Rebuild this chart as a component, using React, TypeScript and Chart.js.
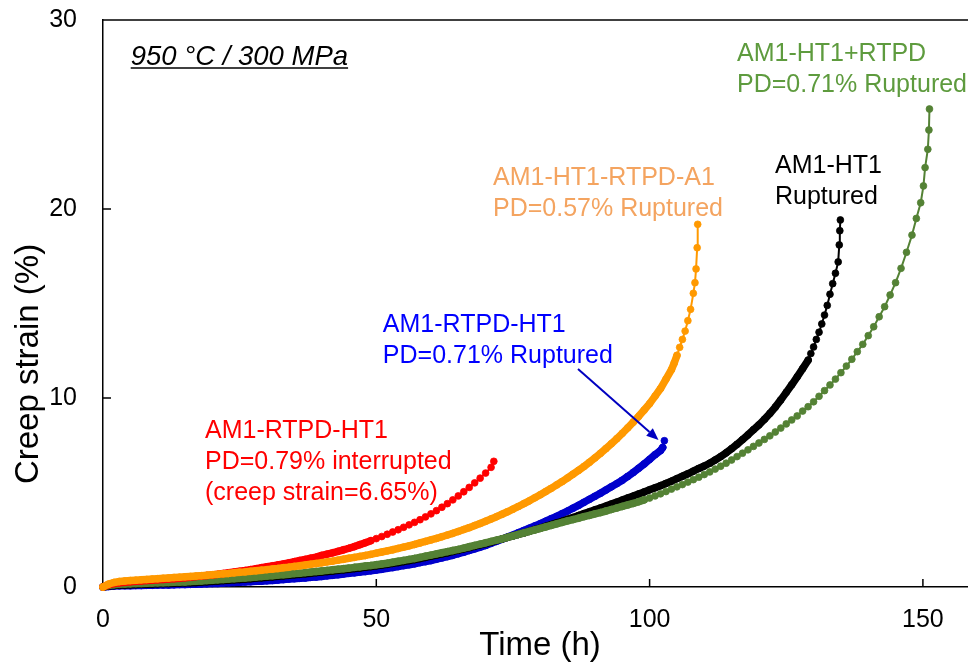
import React, { useEffect, useRef } from 'react';
import { Chart, registerables } from 'chart.js';

Chart.register(...registerables);

const FONT = '"Liberation Sans", Arial, Helvetica, sans-serif';

// Creep strain (%) sampled hourly: index = time (h)
const redHourly = [
  0, 0.12, 0.18, 0.22, 0.25, 0.28, 0.3, 0.32, 0.34, 0.36,
  0.38, 0.4, 0.42, 0.44, 0.46, 0.49, 0.52, 0.55, 0.58, 0.61,
  0.64, 0.67, 0.71, 0.75, 0.79, 0.83, 0.87, 0.92, 0.97, 1.02,
  1.07, 1.12, 1.17, 1.22, 1.28, 1.34, 1.4, 1.46, 1.52, 1.58,
  1.67, 1.74, 1.81, 1.89, 1.97, 2.05, 2.14, 2.24, 2.34, 2.45,
  2.56, 2.67, 2.79, 2.91, 3.03, 3.16, 3.29, 3.42, 3.56, 3.71,
  3.87, 4.04, 4.22, 4.41, 4.61, 4.82, 5.04, 5.27, 5.51, 5.76,
  6.03, 6.33,
];
const redTailTime = [71.5];
const redTailStrain = [6.65];

const orangeHourly = [
  0, 0.15, 0.24, 0.29, 0.32, 0.34, 0.36, 0.38, 0.4, 0.42,
  0.44, 0.46, 0.48, 0.5, 0.52, 0.54, 0.56, 0.58, 0.6, 0.62,
  0.65, 0.67, 0.7, 0.72, 0.75, 0.78, 0.8, 0.83, 0.86, 0.89,
  0.92, 0.95, 0.98, 1.02, 1.05, 1.09, 1.12, 1.16, 1.2, 1.24,
  1.28, 1.33, 1.37, 1.42, 1.47, 1.52, 1.57, 1.62, 1.67, 1.73,
  1.79, 1.85, 1.91, 1.97, 2.04, 2.11, 2.18, 2.25, 2.33, 2.41,
  2.49, 2.57, 2.66, 2.75, 2.84, 2.94, 3.04, 3.14, 3.25, 3.36,
  3.48, 3.6, 3.72, 3.85, 3.98, 4.12, 4.26, 4.41, 4.56, 4.72,
  4.88, 5.05, 5.22, 5.4, 5.58, 5.77, 5.97, 6.17, 6.38, 6.6,
  6.83, 7.07, 7.32, 7.58, 7.85, 8.13, 8.42, 8.72, 9.03, 9.36,
  9.7, 10.1, 10.5, 11.0, 11.5,
];
const orangeTailTime = [104.5, 105, 105.5, 106, 106.5, 107, 107.5, 108, 108.3, 108.5, 108.7, 108.8];
const orangeTailStrain = [11.85, 12.25, 12.68, 13.1, 13.54, 14.09, 14.69, 15.54, 16.1, 16.83, 17.95, 19.19];

const blueHourly = [
  0, 0.03, 0.05, 0.06, 0.07, 0.07, 0.08, 0.08, 0.09, 0.09,
  0.1, 0.11, 0.11, 0.12, 0.13, 0.13, 0.14, 0.15, 0.16, 0.17,
  0.18, 0.19, 0.21, 0.22, 0.24, 0.25, 0.27, 0.28, 0.3, 0.31,
  0.33, 0.35, 0.37, 0.39, 0.42, 0.44, 0.46, 0.48, 0.51, 0.53,
  0.56, 0.59, 0.62, 0.65, 0.69, 0.72, 0.75, 0.79, 0.82, 0.86,
  0.9, 0.94, 0.99, 1.03, 1.08, 1.13, 1.18, 1.23, 1.29, 1.34,
  1.4, 1.47, 1.54, 1.61, 1.68, 1.76, 1.84, 1.93, 2.02, 2.11,
  2.2, 2.31, 2.42, 2.53, 2.64, 2.75, 2.87, 2.99, 3.11, 3.23,
  3.35, 3.48, 3.61, 3.74, 3.88, 4.02, 4.17, 4.32, 4.48, 4.64,
  4.8, 4.96, 5.13, 5.3, 5.47, 5.65, 5.85, 6.06, 6.28, 6.51,
  6.75, 7.0, 7.22,
];
const blueTailTime = [102.4, 102.7];
const blueTailStrain = [7.38, 7.74];

const blackHourly = [
  0, 0.05, 0.08, 0.1, 0.11, 0.12, 0.13, 0.14, 0.15, 0.16,
  0.17, 0.18, 0.19, 0.2, 0.21, 0.22, 0.23, 0.24, 0.26, 0.28,
  0.3, 0.32, 0.34, 0.36, 0.38, 0.4, 0.42, 0.44, 0.47, 0.49,
  0.52, 0.54, 0.57, 0.59, 0.62, 0.65, 0.67, 0.7, 0.73, 0.76,
  0.79, 0.82, 0.85, 0.88, 0.91, 0.94, 0.98, 1.01, 1.05, 1.08,
  1.12, 1.16, 1.2, 1.25, 1.3, 1.35, 1.4, 1.45, 1.51, 1.57,
  1.63, 1.69, 1.75, 1.81, 1.88, 1.95, 2.02, 2.09, 2.16, 2.23,
  2.3, 2.38, 2.46, 2.54, 2.62, 2.7, 2.78, 2.86, 2.95, 3.04,
  3.12, 3.21, 3.3, 3.39, 3.48, 3.58, 3.68, 3.78, 3.88, 3.98,
  4.08, 4.18, 4.28, 4.39, 4.49, 4.6, 4.71, 4.81, 4.92, 5.03,
  5.14, 5.25, 5.36, 5.48, 5.6, 5.73, 5.86, 5.99, 6.13, 6.27,
  6.4, 6.55, 6.72, 6.9, 7.1, 7.32, 7.55, 7.8, 8.05, 8.32,
  8.58, 8.87, 9.18, 9.52, 9.9, 10.3, 10.7, 11.12, 11.55, 12.0,
];
const blackTailTime = [129.5, 130, 130.5, 131, 131.5, 132, 132.5, 133, 133.5, 134, 134.5, 134.7, 134.8, 134.9];
const blackTailStrain = [12.35, 12.7, 13.1, 13.48, 13.92, 14.39, 14.9, 15.49, 16.05, 16.6, 17.2, 18.1, 18.85, 19.42];

const greenHourly = [
  0, 0.08, 0.12, 0.14, 0.16, 0.17, 0.18, 0.19, 0.2, 0.21,
  0.22, 0.23, 0.24, 0.25, 0.26, 0.27, 0.29, 0.3, 0.32, 0.34,
  0.36, 0.38, 0.4, 0.42, 0.44, 0.46, 0.48, 0.5, 0.53, 0.55,
  0.58, 0.6, 0.63, 0.65, 0.68, 0.71, 0.73, 0.76, 0.79, 0.82,
  0.85, 0.88, 0.91, 0.94, 0.97, 1.0, 1.04, 1.07, 1.11, 1.14,
  1.18, 1.22, 1.26, 1.31, 1.36, 1.41, 1.46, 1.51, 1.57, 1.63,
  1.69, 1.75, 1.81, 1.87, 1.93, 1.99, 2.06, 2.13, 2.2, 2.27,
  2.34, 2.41, 2.48, 2.55, 2.63, 2.7, 2.78, 2.86, 2.94, 3.02,
  3.1, 3.18, 3.26, 3.34, 3.42, 3.5, 3.57, 3.64, 3.72, 3.79,
  3.87, 3.94, 4.02, 4.1, 4.18, 4.26, 4.34, 4.42, 4.51, 4.61,
  4.71, 4.82, 4.93, 5.05, 5.18, 5.3, 5.42, 5.55, 5.68, 5.81,
  5.95, 6.09, 6.24, 6.39, 6.55, 6.72, 6.9, 7.08, 7.26, 7.44,
  7.62, 7.81, 8.0, 8.2, 8.41, 8.63, 8.84, 9.05, 9.31, 9.54,
  9.8, 10.09, 10.39, 10.69, 11.0, 11.34, 11.69, 12.05, 12.45, 12.84,
  13.3, 13.77, 14.3, 14.83, 15.45, 16.1, 16.86, 17.71, 18.62,
];
const greenTailTime = [148.8, 149.6, 150.1, 150.4, 150.9, 151.1, 151.2];
const greenTailStrain = [19.5, 20.33, 21.22, 22.19, 23.16, 24.18, 25.29];

const xTicks = [0, 50, 100, 150];
const yTicks = [0, 10, 20, 30];

// Text annotations (data coordinates of left end of first baseline)
const labels = [
  { lines: ['AM1-RTPD-HT1', 'PD=0.79% interrupted', '(creep strain=6.65%)'], x: 18.66, y: 7.91, color: '#FF0000' },
  { lines: ['AM1-RTPD-HT1', 'PD=0.71% Ruptured'], x: 51.2, y: 13.51, color: '#0000FF' },
  { lines: ['AM1-HT1-RTPD-A1', 'PD=0.57% Ruptured'], x: 71.35, y: 21.29, color: '#F4A460' },
  { lines: ['AM1-HT1', 'Ruptured'], x: 122.94, y: 21.93, color: '#000000' },
  { lines: ['AM1-HT1+RTPD', 'PD=0.71% Ruptured'], x: 115.99, y: 27.85, color: '#5E9B3E' },
];
const condition = { text: '950 °C / 300 MPa', x: 5.07, y: 27.62 };
const arrow = { x1: 86.9, y1: 11.53, x2: 101.63, y2: 7.78, color: '#0000C0' };

function toPoints(hourly: number[], tt: number[], ts: number[]) {
  const pts = hourly.map((y, i) => ({ x: i, y }));
  tt.forEach((t, i) => pts.push({ x: t, y: ts[i] }));
  return pts;
}

export default function App() {
  const ref = useRef<HTMLCanvasElement>(null);

  useEffect(() => {
    const canvas = ref.current;
    if (!canvas) return;

    // denseUntil: number of leading points drawn as a solid dense band (densely logged portion)
    const mk = (label: string, data: any[], color: string, order: number, denseUntil: number) => ({
      label,
      data,
      showLine: true,
      borderColor: color,
      backgroundColor: color,
      pointBackgroundColor: color,
      pointBorderColor: color,
      pointRadius: 3.4,
      pointBorderWidth: 0.8,
      borderWidth: 2,
      borderCapStyle: 'round',
      borderJoinStyle: 'round',
      segment: {
        borderWidth: (c: any) => (c.p1DataIndex < denseUntil ? 7.5 : 2),
      },
      order,
      clip: 10,
    });

    const overlay = {
      id: 'overlay',
      afterDraw(chart: any) {
        const { ctx, chartArea, scales } = chart;
        const xs = scales.x;
        const ys = scales.y;
        ctx.save();
        ctx.strokeStyle = '#000';
        ctx.lineWidth = 1.5;
        ctx.beginPath();
        ctx.moveTo(chartArea.left, chartArea.top);
        ctx.lineTo(chartArea.right, chartArea.top);
        ctx.stroke();
        xTicks.forEach((v) => {
          if (v === 0) return;
          const px = xs.getPixelForValue(v);
          ctx.beginPath();
          ctx.moveTo(px, chartArea.bottom);
          ctx.lineTo(px, chartArea.bottom - 8);
          ctx.stroke();
        });
        yTicks.forEach((v) => {
          if (v === 0 || v === 30) return;
          const py = ys.getPixelForValue(v);
          ctx.beginPath();
          ctx.moveTo(chartArea.left, py);
          ctx.lineTo(chartArea.left + 8, py);
          ctx.stroke();
        });

        // axis titles
        ctx.fillStyle = '#000';
        ctx.font = `33px ${FONT}`;
        ctx.textAlign = 'center';
        ctx.textBaseline = 'alphabetic';
        ctx.fillText('Time (h)', 540, 655);
        ctx.save();
        ctx.translate(38, 364);
        ctx.rotate(-Math.PI / 2);
        ctx.fillText('Creep strain (%)', 0, 0);
        ctx.restore();

        // annotations
        ctx.textAlign = 'left';
        ctx.font = `25px ${FONT}`;
        labels.forEach((l) => {
          ctx.fillStyle = l.color;
          const px = xs.getPixelForValue(l.x);
          const py = ys.getPixelForValue(l.y);
          l.lines.forEach((s, i) => ctx.fillText(s, px, py + i * 31));
        });

        // condition
        ctx.font = `italic 27.5px ${FONT}`;
        ctx.fillStyle = '#000';
        const cx = xs.getPixelForValue(condition.x);
        const cy = ys.getPixelForValue(condition.y);
        ctx.fillText(condition.text, cx, cy);
        const w = ctx.measureText(condition.text).width;
        ctx.lineWidth = 1.5;
        ctx.beginPath();
        ctx.moveTo(cx, cy + 3);
        ctx.lineTo(cx + w, cy + 3);
        ctx.stroke();

        // arrow
        const ax1 = xs.getPixelForValue(arrow.x1);
        const ay1 = ys.getPixelForValue(arrow.y1);
        const ax2 = xs.getPixelForValue(arrow.x2);
        const ay2 = ys.getPixelForValue(arrow.y2);
        const ang = Math.atan2(ay2 - ay1, ax2 - ax1);
        const hl = 12;
        const hw = 5;
        ctx.strokeStyle = arrow.color;
        ctx.fillStyle = arrow.color;
        ctx.lineWidth = 2;
        ctx.beginPath();
        ctx.moveTo(ax1, ay1);
        ctx.lineTo(ax2 - hl * Math.cos(ang), ay2 - hl * Math.sin(ang));
        ctx.stroke();
        ctx.beginPath();
        ctx.moveTo(ax2, ay2);
        ctx.lineTo(ax2 - hl * Math.cos(ang) + hw * Math.sin(ang), ay2 - hl * Math.sin(ang) - hw * Math.cos(ang));
        ctx.lineTo(ax2 - hl * Math.cos(ang) - hw * Math.sin(ang), ay2 - hl * Math.sin(ang) + hw * Math.cos(ang));
        ctx.closePath();
        ctx.fill();
        ctx.restore();
      },
    };

    const chart = new Chart(canvas, {
      type: 'scatter',
      data: {
        datasets: [
          mk('AM1-HT1-RTPD-A1', toPoints(orangeHourly, orangeTailTime, orangeTailStrain), '#FF9900', 0, orangeHourly.length + 2),
          mk('AM1-RTPD-HT1 PD=0.79%', toPoints(redHourly, redTailTime, redTailStrain), '#FF0000', 1, 50),
          mk('AM1-HT1+RTPD', toPoints(greenHourly, greenTailTime, greenTailStrain), '#548235', 2, 100),
          mk('AM1-HT1', toPoints(blackHourly, blackTailTime, blackTailStrain), '#000000', 3, blackHourly.length),
          mk('AM1-RTPD-HT1 PD=0.71%', toPoints(blueHourly, blueTailTime, blueTailStrain), '#0000CC', 4, blueHourly.length + 1),
        ],
      },
      options: {
        animation: false,
        responsive: false,
        devicePixelRatio: 1,
        layout: { autoPadding: false, padding: { top: 20, right: 0, bottom: 0, left: 0 } },
        plugins: { legend: { display: false }, tooltip: { enabled: false } },
        scales: {
          x: {
            type: 'linear',
            min: 0,
            max: 158.25,
            afterFit: (s: any) => { s.height = 76; s.paddingLeft = 0; s.paddingRight = 0; },
            afterBuildTicks: (s: any) => { s.ticks = xTicks.map((v) => ({ value: v })); },
            ticks: { font: { size: 25, family: FONT }, color: '#000', padding: 18, maxRotation: 0 },
            grid: { display: false, drawTicks: false },
            border: { display: true, color: '#000', width: 1.5 },
          },
          y: {
            type: 'linear',
            min: 0,
            max: 30,
            afterFit: (s: any) => { s.width = 103; s.paddingTop = 0; s.paddingBottom = 0; },
            afterBuildTicks: (s: any) => { s.ticks = yTicks.map((v) => ({ value: v })); },
            ticks: { font: { size: 25, family: FONT }, color: '#000', padding: 26 },
            grid: { display: false, drawTicks: false },
            border: { display: true, color: '#000', width: 1.5 },
          },
        },
      },
      plugins: [overlay],
    });
    return () => chart.destroy();
  }, []);

  return (
    <div style={{ position: 'fixed', left: 0, top: 0, width: 968, height: 663, background: '#fff' }}>
      <canvas ref={ref} width={968} height={663} style={{ width: 968, height: 663, display: 'block' }} />
    </div>
  );
}
